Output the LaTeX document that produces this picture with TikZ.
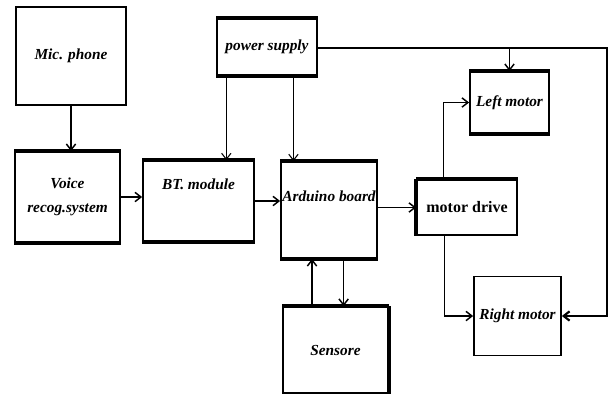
\documentclass[tikz,border=0pt]{standalone}
\usepackage{fontspec}
\setmainfont{Liberation Serif}
\usetikzlibrary{positioning,arrows.meta,calc}

\begin{document}
\begin{tikzpicture}[
    x=0.75pt, y=-0.75pt,
    >={Straight Barb[length=4.5pt,width=7pt]},
    block/.style={
        draw,
        line width=1.3pt,
        font=\fontsize{11.5}{13}\selectfont\bfseries\itshape,
        align=center,
        inner sep=0pt
    },
    arrow/.style={->, line width=1.1pt},
    bar/.style={line width=3pt}
]
\useasboundingbox (0,0) rectangle (611,397);

% INPUT CHAIN
\node[block, minimum width=82.5pt, minimum height=73.5pt] (mic) at (71,56)
{Mic. phone};

\node[block, minimum width=78.75pt, minimum height=67.5pt] (voice) at (67.5,197)
{Voice\\[5pt]recog.system};

\node[block, minimum width=83.25pt, minimum height=60pt] (bt) at (198.5,201)
{BT. module\\[12pt]};

\node[block, minimum width=72pt, minimum height=72pt] (arduino) at (329,210)
{Arduino board\\[8pt]};

\draw[arrow] (mic) -- (mic |- voice.north);
\draw[arrow] (voice.east) -- (voice.east -| bt.west);
\draw[arrow] (bt.east) -- (bt.east -| arduino.west);

% POWER
\node[block, minimum width=75pt, minimum height=42pt] (power) at (267,47)
{power supply};

\coordinate (p1) at ($(power.south west)!0.1!(power.south east)$);
\coordinate (p2) at ($(power.south west)!0.76!(power.south east)$);
\draw[arrow, line width=0.8pt] (p1) -- (p1 |- bt.north);
\draw[arrow, line width=0.8pt] (p2) -- (p2 |- arduino.north);

% MOTORS
\node[block, minimum width=75pt, minimum height=41.25pt, font=\fontsize{12}{14}\selectfont\bfseries] (drive) at (467,207.5)
{motor drive};

\node[block, minimum width=59.25pt, minimum height=45.75pt] (left) at (509.5,102.5)
{Left motor};

\node[block, minimum width=65.25pt, minimum height=59.25pt] (right) at (517.5,316)
{Right motor};

\coordinate (corner) at (607,48);
\coordinate (d1) at ($(drive.north west)!0.27!(drive.north east)$);
\coordinate (d2) at ($(drive.south west)!0.28!(drive.south east)$);

\draw[arrow] (arduino.east |- drive.west) -- (drive.west);
\draw[arrow] (d1) |- (left.west);
\draw[arrow] (d2) |- (right.west);
\draw[arrow, line width=1.6pt] (power.east |- corner) -- (corner) |- (right.east);
\draw[arrow] (left.north |- corner) -- (left.north);

% SENSOR
\node[block, minimum width=78.75pt, minimum height=64.5pt] (sensor) at (335.5,350)
{Sensore};

\coordinate (s1) at ($(sensor.north west)!0.28!(sensor.north east)$);
\coordinate (s2) at ($(arduino.south west)!0.65!(arduino.south east)$);
\draw[arrow] (s1) -- (s1 |- arduino.south);
\draw[arrow] (s2) -- (s2 |- sensor.north);

% THICK EDGES
\foreach \n in {voice,bt,arduino,power,left,drive,sensor}
    \draw[bar] (\n.north west) -- (\n.north east);
\foreach \n in {voice,bt,arduino,power,left}
    \draw[bar] (\n.south west) -- (\n.south east);
\draw[bar] (drive.north west) -- (drive.south west);
\draw[bar] (sensor.north east) -- (sensor.south east);

\end{tikzpicture}
\end{document}
